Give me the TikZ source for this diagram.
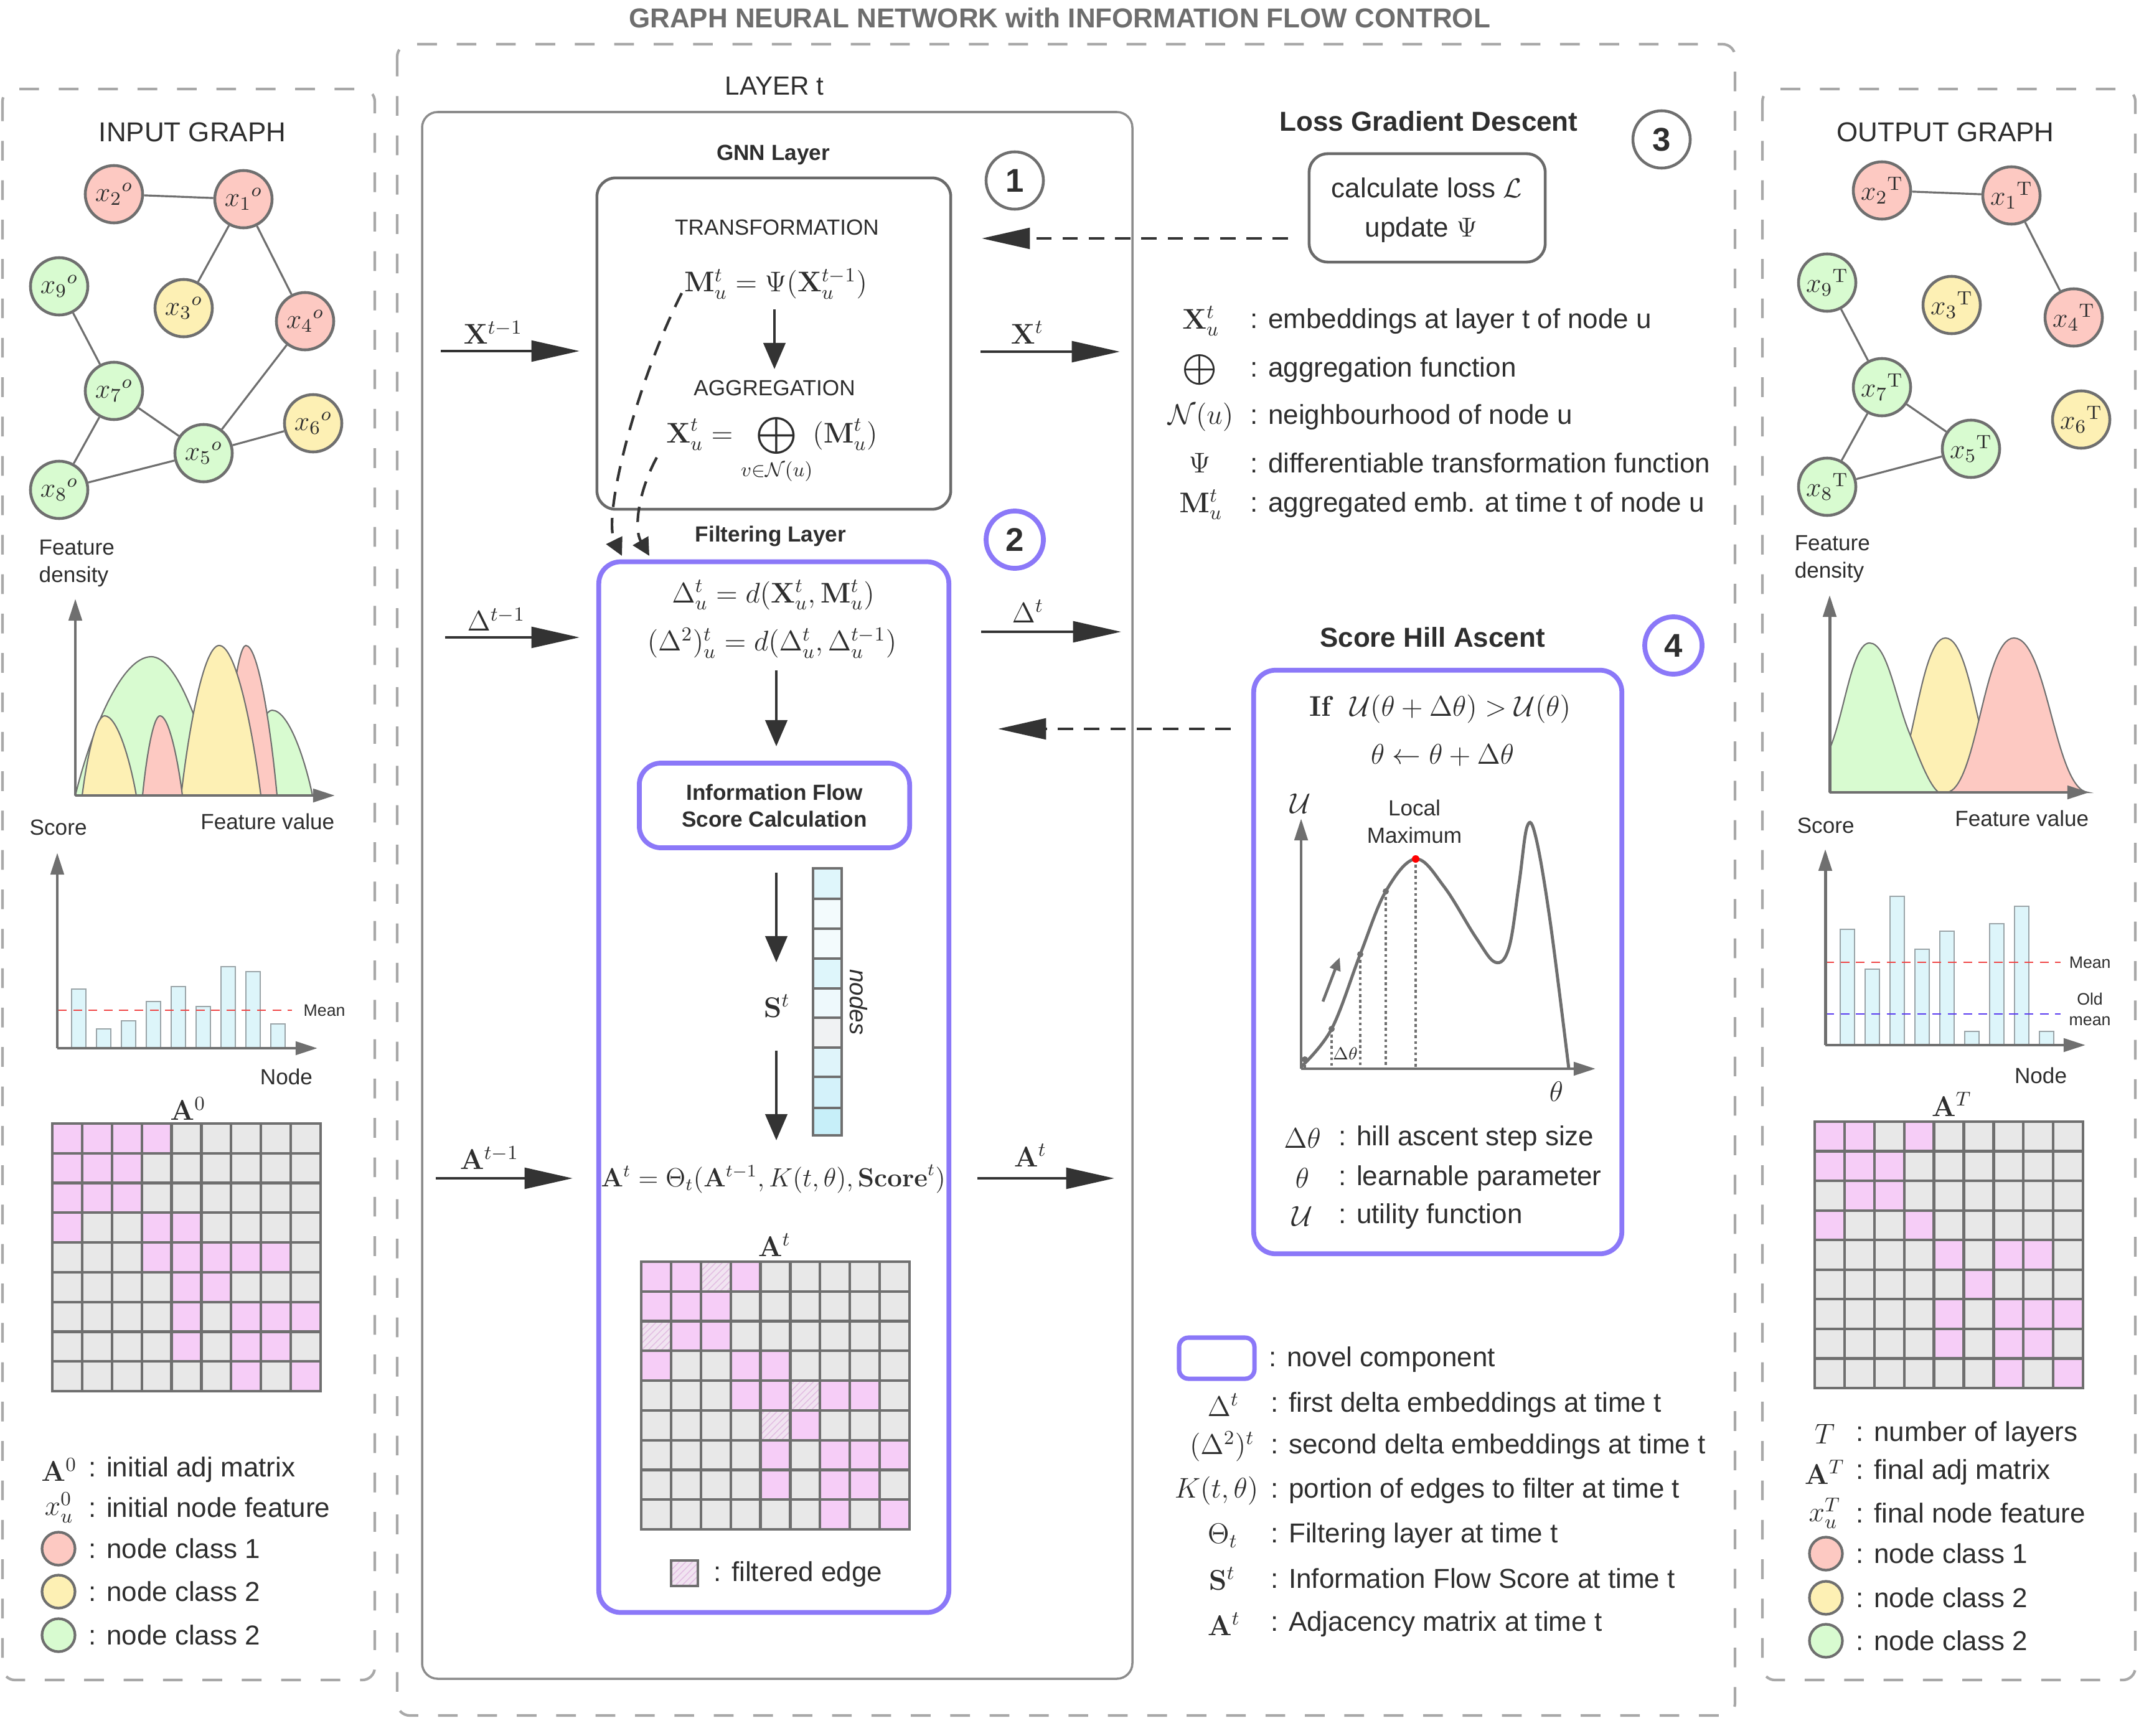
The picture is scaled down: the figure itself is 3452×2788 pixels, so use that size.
\RequirePackage{fix-cm}
\documentclass[tikz,border=0pt]{standalone}
\usepackage{amsmath}
\usepackage[no-math]{fontspec}
\setmainfont{Liberation Sans}
\usetikzlibrary{arrows.meta,patterns}
\newcommand\setfs[2]{\fontsize{#1}{#2}\selectfont}
\definecolor{txt}{HTML}{2E2E2E}
\definecolor{lgray}{HTML}{6F6F6F}
\definecolor{pgray}{HTML}{A8A8A8}
\definecolor{boxgray}{HTML}{6A6A6A}
\definecolor{laygray}{HTML}{8C8C8C}
\definecolor{purp}{HTML}{8B78F8}
\definecolor{npink}{HTML}{FDC9C2}
\definecolor{nyel}{HTML}{FDF0B4}
\definecolor{ngreen}{HTML}{D8FBD0}
\definecolor{mpink}{HTML}{F6CDF7}
\definecolor{mgray}{HTML}{E8E8E8}
\definecolor{fpink}{HTML}{F1E4F1}
\definecolor{hatchc}{HTML}{E2BDE2}
\definecolor{cyanbar}{HTML}{DDF5FA}
\definecolor{barline}{HTML}{9AA4A8}
\definecolor{arr}{HTML}{333333}
\definecolor{titlegray}{HTML}{6E6E6E}
\definecolor{meanred}{HTML}{F04545}
\definecolor{meanblue}{HTML}{5A3CF0}
\definecolor{svA}{HTML}{DFF6FB}
\definecolor{svB}{HTML}{F3FBFD}
\definecolor{svC}{HTML}{DEF6FB}
\definecolor{svD}{HTML}{EEF9FC}
\definecolor{svE}{HTML}{F0F2F3}
\definecolor{svF}{HTML}{DFF4FA}
\definecolor{svG}{HTML}{D4F2FA}
\definecolor{svH}{HTML}{C7EFF9}
\tikzset{
 panel/.style={draw=pgray,line width=1.2pt,dash pattern=on 9pt off 9pt,rounded corners=0.2cm},
 gnode/.style={circle,draw=lgray,line width=1.3pt,minimum size=0.92cm,font=\setfs{12.5}{14}},
 lnode/.style={circle,draw=lgray,line width=1.2pt,minimum size=0.53cm},
 gedge/.style={draw=lgray,line width=0.9pt},
 axisarr/.style={draw=lgray,line width=1.4pt,-{Triangle[length=10pt,width=6pt]}},
 bar/.style={fill=cyanbar,draw=barline,line width=0.5pt},
 harrow/.style={draw=arr,line width=1.3pt,-{Triangle[length=22pt,width=9.5pt]}},
 varrow/.style={draw=arr,line width=1.3pt,-{Triangle[length=12pt,width=10pt]}},
 dharrow/.style={harrow,dash pattern=on 7pt off 5pt},
 dcurve/.style={draw=arr,line width=1.2pt,dash pattern=on 7pt off 5pt,-{Triangle[length=8pt,width=8pt]}},
 graybox/.style={draw=boxgray,line width=1.3pt,rounded corners=0.3cm},
 purpbox/.style={draw=purp,line width=2.2pt,rounded corners=0.35cm},
 numc/.style={circle,draw=lgray,line width=1.3pt,minimum size=0.92cm,font=\bfseries\setfs{15}{18}},
 pnumc/.style={numc,draw=purp,line width=2.2pt},
 lg/.style={anchor=west,font=\setfs{12.5}{15}},
 mth/.style={font=\setfs{13}{15}},
 small/.style={font=\setfs{10}{12.4}},
 mline/.style={draw=lgray,line width=1.2pt},
 curveline/.style={draw=lgray,line width=0.6pt},
 dotline/.style={draw=lgray,line width=1.3pt,dash pattern=on 1.3pt off 1.3pt},
}
\newcommand\adjmat[4]{%
  \fill[mgray] (#1,#2) rectangle ({#1+431},{#2+#3});
  \foreach \r/\c in {#4} {\fill[mpink] ({#1+(\c-1)*47.89},{#2+(\r-1)*#3/9}) rectangle ({#1+\c*47.89},{#2+\r*#3/9});}
  \foreach \i in {0,...,9} {\draw[mline] ({#1+\i*47.89},#2) -- ({#1+\i*47.89},{#2+#3});
    \draw[mline] (#1,{#2+\i*#3/9}) -- ({#1+431},{#2+\i*#3/9});}
  \draw[mline] (#1,#2) rectangle ({#1+431},{#2+#3});
}
\newcommand\filtcells[4]{%
  \foreach \r/\c in {#4} {\fill[fpink] ({#1+(\c-1)*47.89},{#2+(\r-1)*#3/9}) rectangle ({#1+\c*47.89},{#2+\r*#3/9});
   \fill[pattern=north east lines,pattern color=hatchc] ({#1+(\c-1)*47.89},{#2+(\r-1)*#3/9}) rectangle ({#1+\c*47.89},{#2+\r*#3/9});}
}
% color, a, m, b, peak, base
\newcommand\bellsteep[6]{%
  \filldraw[fill=#1,curveline] (#2,#6) .. controls ({#2+0.2*(#3-#2)},{#6-0.45*(#6-#5)}) and ({#3-0.4*(#3-#2)},#5) .. (#3,#5)
    .. controls ({#3+0.4*(#4-#3)},#5) and ({#4-0.2*(#4-#3)},{#6-0.45*(#6-#5)}) .. (#4,#6) -- cycle;}
\newcommand\bellsoft[6]{%
  \filldraw[fill=#1,curveline] (#2,#6) .. controls ({#2+0.45*(#3-#2)},{#6-0.02*(#6-#5)}) and ({#3-0.45*(#3-#2)},#5) .. (#3,#5)
    .. controls ({#3+0.45*(#4-#3)},#5) and ({#4-0.45*(#4-#3)},{#6-0.02*(#6-#5)}) .. (#4,#6) -- cycle;}
\begin{document}
\begin{tikzpicture}[x=0.01cm,y=-0.01cm,every node/.style={text=txt,inner sep=0pt}]
\useasboundingbox (0,0) rectangle (3452,2788);
\fill[white] (0,0) rectangle (3452,2788);

% ---------- title and panels ----------
\node[font=\bfseries\setfs{12.5}{15},text=titlegray] (title) at (1702,29) {GRAPH NEURAL NETWORK with INFORMATION FLOW CONTROL};
\draw[panel] (4,143) rectangle (602,2699);
\draw[panel] (638,71) rectangle (2787,2756);
\draw[panel] (2831,143) rectangle (3430,2699);
\draw[draw=laygray,line width=1pt,rounded corners=0.25cm] (678,180) rectangle (1819,2697);
\node[font=\setfs{12}{14}] (layert) at (1244,138) {LAYER t};

% ---------- INPUT GRAPH ----------
\node[font=\setfs{12.5}{15}] (intitle) at (309,212) {INPUT GRAPH};
\node[gnode,fill=npink] (i1) at (391,320) {$x_{1}{}^{o}$};
\node[gnode,fill=npink] (i2) at (183,312) {$x_{2}{}^{o}$};
\node[gnode,fill=nyel] (i3) at (295,495) {$x_{3}{}^{o}$};
\node[gnode,fill=npink] (i4) at (490,516) {$x_{4}{}^{o}$};
\node[gnode,fill=ngreen] (i5) at (327,728) {$x_{5}{}^{o}$};
\node[gnode,fill=nyel] (i6) at (503,680) {$x_{6}{}^{o}$};
\node[gnode,fill=ngreen] (i7) at (183,628) {$x_{7}{}^{o}$};
\node[gnode,fill=ngreen] (i8) at (95,787) {$x_{8}{}^{o}$};
\node[gnode,fill=ngreen] (i9) at (95,460) {$x_{9}{}^{o}$};
\draw[gedge] (i2) -- (i1);
\draw[gedge] (i1) -- (i3);
\draw[gedge] (i1) -- (i4);
\draw[gedge] (i9) -- (i7);
\draw[gedge] (i4) -- (i5);
\draw[gedge] (i7) -- (i5);
\draw[gedge] (i7) -- (i8);
\draw[gedge] (i8) -- (i5);
\draw[gedge] (i5) -- (i6);

% density chart (input)
\node[small,anchor=west,align=left] (infd) at (62,905) {Feature\\density};
\bellsteep{ngreen}{121}{243}{348}{1055}{1278}
\bellsteep{ngreen}{395}{437}{502}{1141}{1278}
\bellsteep{npink}{360}{395}{445}{1037}{1278}
\bellsteep{nyel}{291}{352}{419}{1037}{1278}
\bellsteep{nyel}{132}{168}{219}{1150}{1278}
\bellsteep{npink}{229}{257}{293}{1150}{1278}
\coordinate (indo) at (121,1278);
\coordinate (indy) at (121,962);
\coordinate (indx) at (538,1278);
\draw[axisarr] (indo) -- (indy);
\draw[axisarr] (indo) -- (indx);
\node[small,anchor=east] (infv) at (538,1320) {Feature value};
\node[small,anchor=west] (insc) at (47,1329) {Score};
% bar chart (input)
\foreach \x/\t in {115/1589,155/1653,195/1640,235/1609,275/1585,315/1617,355/1553,395/1561,435/1645}
  {\draw[bar] (\x,1684) rectangle ({\x+23},\t);}
\draw[meanred,line width=0.6pt,dash pattern=on 4pt off 3pt] (93,1623) -- (469,1623);
\coordinate (inbo) at (92,1684);
\coordinate (inby) at (92,1370);
\coordinate (inbx) at (510,1684);
\draw[axisarr] (inbo) -- (inby);
\draw[axisarr] (inbo) -- (inbx);
\node[font=\setfs{7.6}{9},anchor=west] (inmean) at (487,1623) {Mean};
\node[small] (innode) at (460,1730) {Node};
% matrix A0
\node[mth] (a0lab) at (302,1781) {$\mathbf{A}^{0}$};
\adjmat{84}{1805}{430}{1/1,1/2,1/3,1/4,2/1,2/2,2/3,3/1,3/2,3/3,4/1,4/4,4/5,5/4,5/5,5/6,5/7,5/8,6/5,6/6,7/5,7/7,7/8,7/9,8/5,8/7,8/8,9/7,9/9}
% legend (input)
\node[mth] (lg1s) at (95,2361) {$\mathbf{A}^{0}$};
\node[lg] (lg1t) at (142,2361) {: initial adj matrix};
\node[mth] (lg2s) at (95,2422) {$x_u^0$};
\node[lg] (lg2t) at (142,2422) {: initial node feature};
\node[lnode,fill=npink] (lg3s) at (94,2488) {};
\node[lg] (lg3t) at (142,2488) {: node class 1};
\node[lnode,fill=nyel] (lg4s) at (94,2557) {};
\node[lg] (lg4t) at (142,2557) {: node class 2};
\node[lnode,fill=ngreen] (lg5s) at (94,2627) {};
\node[lg] (lg5t) at (142,2627) {: node class 2};

% ---------- GNN layer ----------
\node[font=\bfseries\setfs{10}{12}] (gnnt) at (1242,249) {GNN Layer};
\node[graybox,minimum width=5.68cm,minimum height=5.32cm] (gnn) at (1243,552) {};
\node[numc] (n1) at (1630,290) {1};
\node[small] (transf) at (1248,365) {TRANSFORMATION};
\node[mth] (mform) at (1246,456) {$\mathbf{M}_u^t = \Psi(\mathbf{X}_u^{t-1})$};
\node[small] (aggr) at (1244,623) {AGGREGATION};
\node[mth] (xform) at (1240,722) {$\displaystyle \mathbf{X}_u^t = \bigoplus_{v\in\mathcal{N}(u)} (\mathbf{M}_u^t)$};
\coordinate (mx1) at (1244,497);
\coordinate (mx2) at (1244,593);
\draw[varrow] (mx1) -- (mx2);
\coordinate (dc1s) at (1095,471);
\coordinate (dc1e) at (999,893);
\coordinate (dc2s) at (1055,735);
\coordinate (dc2e) at (1043,893);
\draw[dcurve] (dc1s) .. controls (1020,620) and (968,830) .. (dc1e);
\draw[dcurve] (dc2s) .. controls (1025,790) and (1018,850) .. (dc2e);

% horizontal arrows
\coordinate (xin1) at (708,564); \coordinate (xin2) at (931,564);
\coordinate (xout1) at (1575,565); \coordinate (xout2) at (1799,565);
\coordinate (din1) at (715,1024); \coordinate (din2) at (931,1024);
\coordinate (dout1) at (1576,1015); \coordinate (dout2) at (1801,1015);
\coordinate (ain1) at (700,1893); \coordinate (ain2) at (920,1893);
\coordinate (aout1) at (1570,1893); \coordinate (aout2) at (1790,1893);
\draw[harrow] (xin1) -- (xin2);
\draw[harrow] (xout1) -- (xout2);
\draw[harrow] (din1) -- (din2);
\draw[harrow] (dout1) -- (dout2);
\draw[harrow] (ain1) -- (ain2);
\draw[harrow] (aout1) -- (aout2);
\node[mth] (lxin) at (792,534) {$\mathbf{X}^{t-1}$};
\node[mth] (lxout) at (1650,534) {$\mathbf{X}^{t}$};
\node[mth] (ldin) at (797,995) {$\Delta^{t-1}$};
\node[mth] (ldout) at (1651,982) {$\Delta^{t}$};
\node[mth] (lain) at (786,1860) {$\mathbf{A}^{t-1}$};
\node[mth] (laout) at (1655,1856) {$\mathbf{A}^{t}$};

% ---------- Filtering layer ----------
\node[font=\bfseries\setfs{10}{12}] (filtt) at (1238,861) {Filtering Layer};
\node[pnumc] (n2) at (1630,867) {2};
\node[purpbox,minimum width=5.62cm,minimum height=16.87cm] (filt) at (1243,1746.5) {};
\node[mth] (f1) at (1242,956) {$\Delta_u^t = d(\mathbf{X}_u^t, \mathbf{M}_u^t)$};
\node[mth] (f2) at (1240,1033) {$(\Delta^2)_u^t = d(\Delta_u^t, \Delta_u^{t-1})$};
\coordinate (fa1) at (1247,1077); \coordinate (fa2) at (1247,1199);
\draw[varrow] (fa1) -- (fa2);
\node[purpbox,minimum width=4.34cm,minimum height=1.36cm,font=\bfseries\setfs{10}{12.2},align=center] (ifsc) at (1244,1294) {Information Flow\\Score Calculation};
\coordinate (fb1) at (1247,1402); \coordinate (fb2) at (1247,1546);
\draw[varrow] (fb1) -- (fb2);
\node[mth] (slab) at (1248,1616) {$\mathbf{S}^{t}$};
\coordinate (fc1) at (1247,1688); \coordinate (fc2) at (1247,1832);
\draw[varrow] (fc1) -- (fc2);
% score vector
\foreach \ya/\yb/\cc in {1395/1444/svA,1444/1492/svB,1492/1540/svB,1540/1588/svC,1588/1635/svD,1635/1683/svE,1683/1730/svF,1730/1780/svG,1780/1824/svH}
  {\filldraw[fill=\cc,draw=lgray,line width=1.2pt] (1306,\ya) rectangle (1352,\yb);}
\node[font=\itshape\setfs{11}{13},rotate=-90] (nodeslab) at (1379,1610) {nodes};
\node[font=\setfs{12}{14}] (aform) at (1242,1894) {$\mathbf{A}^t = \Theta_t(\mathbf{A}^{t-1}, K(t,\theta), \mathbf{Score}^t)$};
\node[mth] (atlab) at (1244,2000) {$\mathbf{A}^{t}$};
\adjmat{1030}{2027}{430}{1/1,1/2,1/4,2/1,2/2,2/3,3/2,3/3,4/1,4/4,4/5,5/4,5/5,5/7,5/8,6/6,7/5,7/7,7/8,7/9,8/5,8/7,8/8,9/7,9/9}
\filtcells{1030}{2027}{430}{1/3,3/1,5/6,6/5}
\foreach \i in {0,...,9} {\draw[mline] ({1030+\i*47.89},2027) -- ({1030+\i*47.89},2457);
    \draw[mline] (1030,{2027+\i*430/9}) -- (1461,{2027+\i*430/9});}
\fill[fpink] (1078,2507) rectangle (1121,2548);
\fill[pattern=north east lines,pattern color=hatchc] (1078,2507) rectangle (1121,2548);
\draw[lgray,line width=1.2pt] (1078,2507) rectangle (1121,2548);
\node[lg] (filtlg) at (1146,2529) {: filtered edge};

% ---------- Loss gradient descent ----------
\node[font=\bfseries\setfs{12.5}{15}] (losst) at (2295,195) {Loss Gradient Descent};
\node[numc] (n3) at (2669,224) {3};
\node[graybox,minimum width=3.79cm,minimum height=1.74cm] (lossbox) at (2292.5,334) {};
\node[font=\setfs{12.5}{15}] (loss1) at (2292,302) {calculate loss $\mathcal{L}$};
\node[font=\setfs{12.5}{15}] (loss2) at (2283,369) {update $\Psi$};
\coordinate (ld1) at (2069,383); \coordinate (ld2) at (1577,383);
\draw[dharrow] (ld1) -- (ld2);
% legend top right
\node[mth] (r1s) at (1929,516) {$\mathbf{X}_u^t$};
\node[lg] (r1t) at (2008,516) {: embeddings at layer t of node u};
\node[font=\setfs{10}{12}] (r2s) at (1927,594) {$\displaystyle\bigoplus$};
\node[lg] (r2t) at (2008,594) {: aggregation function};
\node[mth] (r3s) at (1929,670) {$\mathcal{N}(u)$};
\node[lg] (r3t) at (2008,670) {: neighbourhood of node u};
\node[mth] (r4s) at (1927,744) {$\Psi$};
\node[lg] (r4t) at (2008,744) {: differentiable transformation function};
\node[mth] (r5s) at (1929,811) {$\mathbf{M}_u^t$};
\node[lg] (r5t) at (2008,811) {: aggregated emb. at time t of node u};

% ---------- Score hill ascent ----------
\node[font=\bfseries\setfs{12.5}{15}] (hillt) at (2301,1024) {Score Hill Ascent};
\node[pnumc] (n4) at (2688,1037) {4};
\node[purpbox,minimum width=5.91cm,minimum height=9.37cm] (hillbox) at (2309.5,1545.5) {};
\coordinate (hd1) at (1977,1171); \coordinate (hd2) at (1603,1171);
\draw[dharrow] (hd1) -- (hd2);
\node[mth] (h1) at (2313,1139) {$\mathbf{If}\;\;\mathcal{U}(\theta+\Delta\theta) > \mathcal{U}(\theta)$};
\node[mth] (h2) at (2317,1213) {$\theta \leftarrow \theta + \Delta\theta$};
\coordinate (ho) at (2090,1717);
\coordinate (hy) at (2090,1315);
\coordinate (hx) at (2563,1717);
\draw[dotline] (2096,1702) -- (2096,1717);
\draw[dotline] (2139,1653) -- (2139,1717);
\draw[dotline] (2185,1533) -- (2185,1717);
\draw[dotline] (2226,1432) -- (2226,1717);
\draw[dotline] (2274,1380) -- (2274,1717);
\draw[lgray,line width=1.4pt] plot[smooth,tension=0.6] coordinates {(2090,1714) (2139,1653) (2185,1533) (2226,1432) (2274,1380) (2320,1425) (2370,1505) (2402,1546) (2424,1522) (2440,1420) (2453,1328) (2467,1345) (2490,1480) (2520,1717)};
\draw[axisarr] (ho) -- (hy);
\draw[axisarr] (ho) -- (hx);
\fill[lgray] (2096,1702) circle (0.05cm);
\fill[lgray] (2139,1653) circle (0.05cm);
\fill[lgray] (2185,1533) circle (0.05cm);
\fill[lgray] (2226,1432) circle (0.05cm);
\fill[red] (2274,1380) circle (0.06cm);
\coordinate (ha1) at (2125,1609); \coordinate (ha2) at (2152,1538);
\draw[lgray,line width=1.3pt,-{Triangle[length=6pt,width=5pt]}] (ha1) -- (ha2);
\node[font=\setfs{8}{9}] (dthl) at (2161,1693) {$\Delta\theta$};
\node[mth] (ulab) at (2089,1291) {$\mathcal{U}$};
\node[mth] (thlab) at (2500,1754) {$\theta$};
\node[small,align=center] (locmax) at (2272,1320) {Local\\Maximum};
\node[mth] (hl1s) at (2092,1829) {$\Delta\theta$};
\node[lg] (hl1t) at (2150,1829) {: hill ascent step size};
\node[mth] (hl2s) at (2092,1893) {$\theta$};
\node[lg] (hl2t) at (2150,1893) {: learnable parameter};
\node[mth] (hl3s) at (2092,1954) {$\mathcal{U}$};
\node[lg] (hl3t) at (2150,1954) {: utility function};

% ---------- bottom middle legend ----------
\node[purpbox,rounded corners=0.15cm,line width=2pt,minimum width=1.21cm,minimum height=0.66cm] (novel) at (1954.5,2182) {};
\node[lg] (b0t) at (2038,2184) {: novel component};
\node[mth] (b1s) at (1965,2257) {$\Delta^t$};
\node[lg] (b1t) at (2041,2257) {: first delta embeddings at time t};
\node[mth] (b2s) at (1963,2324) {$(\Delta^2)^t$};
\node[lg] (b2t) at (2041,2324) {: second delta embeddings at time t};
\node[mth] (b3s) at (1954,2395) {$K(t,\theta)$};
\node[lg] (b3t) at (2041,2395) {: portion of edges to filter at time t};
\node[mth] (b4s) at (1964,2467) {$\Theta_t$};
\node[lg] (b4t) at (2041,2467) {: Filtering layer at time t};
\node[mth] (b5s) at (1963,2536) {$\mathbf{S}^t$};
\node[lg] (b5t) at (2041,2536) {: Information Flow Score at time t};
\node[mth] (b6s) at (1966,2609) {$\mathbf{A}^t$};
\node[lg] (b6t) at (2041,2609) {: Adjacency matrix at time t};

% ---------- OUTPUT GRAPH ----------
\node[font=\setfs{12.5}{15}] (outtitle) at (3125,212) {OUTPUT GRAPH};
\node[gnode,fill=npink] (o1) at (3231,314) {$x_{1}{}^{\mathrm{T}}$};
\node[gnode,fill=npink] (o2) at (3023,306) {$x_{2}{}^{\mathrm{T}}$};
\node[gnode,fill=nyel] (o3) at (3135,490) {$x_{3}{}^{\mathrm{T}}$};
\node[gnode,fill=npink] (o4) at (3331,510) {$x_{4}{}^{\mathrm{T}}$};
\node[gnode,fill=ngreen] (o5) at (3166,721) {$x_{5}{}^{\mathrm{T}}$};
\node[gnode,fill=nyel] (o6) at (3343,674) {$x_{6}{}^{\mathrm{T}}$};
\node[gnode,fill=ngreen] (o7) at (3023,622) {$x_{7}{}^{\mathrm{T}}$};
\node[gnode,fill=ngreen] (o8) at (2935,782) {$x_{8}{}^{\mathrm{T}}$};
\node[gnode,fill=ngreen] (o9) at (2935,454) {$x_{9}{}^{\mathrm{T}}$};
\draw[gedge] (o2) -- (o1);
\draw[gedge] (o1) -- (o4);
\draw[gedge] (o9) -- (o7);
\draw[gedge] (o7) -- (o5);
\draw[gedge] (o7) -- (o8);
\draw[gedge] (o8) -- (o5);
% density chart (output)
\node[small,anchor=west,align=left] (outfd) at (2882,898) {Feature\\density};
\bellsoft{nyel}{3028}{3125}{3227}{1025}{1273}
\filldraw[fill=ngreen,curveline] (2939,1273) -- (2939,1203) .. controls (2962,1150) and (2975,1033) .. (3003,1033)
   .. controls (3032,1033) and (3045,1125) .. (3068,1180) .. controls (3085,1225) and (3100,1262) .. (3114,1273) -- cycle;
\bellsoft{npink}{3127}{3235}{3354}{1025}{1273}
\coordinate (outdo) at (2939,1273);
\coordinate (outdy) at (2939,956);
\coordinate (outdx) at (3356,1273);
\draw[axisarr] (outdo) -- (outdy);
\draw[axisarr] (outdo) -- (outdx);
\node[small,anchor=east] (outfv) at (3356,1315) {Feature value};
\node[small,anchor=west] (outsc) at (2886,1326) {Score};
% bar chart (output)
\foreach \x/\t in {2956/1493,2996/1557,3036/1440,3076/1525,3116/1496,3156/1657,3196/1484,3236/1456,3276/1657}
  {\draw[bar] (\x,1679) rectangle ({\x+23},\t);}
\draw[meanred,line width=0.6pt,dash pattern=on 4pt off 3pt] (2932,1546) -- (3310,1546);
\draw[meanblue,line width=0.6pt,dash pattern=on 4pt off 3pt] (2932,1629) -- (3310,1629);
\coordinate (outbo) at (2932,1679);
\coordinate (outby) at (2932,1364);
\coordinate (outbx) at (3350,1679);
\draw[axisarr] (outbo) -- (outby);
\draw[axisarr] (outbo) -- (outbx);
\node[font=\setfs{7.6}{9},anchor=west] (outmean) at (3323,1546) {Mean};
\node[font=\setfs{7.6}{9.4},align=center] (oldmean) at (3357,1621) {Old\\mean};
\node[small] (outnode) at (3278,1728) {Node};
% matrix AT
\node[mth] (aTlab) at (3135,1774) {$\mathbf{A}^{T}$};
\adjmat{2915}{1802}{428}{1/1,1/2,1/4,2/1,2/2,2/3,3/2,3/3,4/1,4/4,5/5,5/7,5/8,6/6,7/5,7/7,7/8,7/9,8/5,8/7,8/8,9/7,9/9}
% legend (output)
\node[mth] (rl1s) at (2931,2304) {$T$};
\node[lg] (rl1t) at (2981,2304) {: number of layers};
\node[mth] (rl2s) at (2931,2365) {$\mathbf{A}^{T}$};
\node[lg] (rl2t) at (2981,2365) {: final adj matrix};
\node[mth] (rl3s) at (2931,2431) {$x_u^T$};
\node[lg] (rl3t) at (2981,2431) {: final node feature};
\node[lnode,fill=npink] (rl4s) at (2933,2496) {};
\node[lg] (rl4t) at (2981,2496) {: node class 1};
\node[lnode,fill=nyel] (rl5s) at (2933,2567) {};
\node[lg] (rl5t) at (2981,2567) {: node class 2};
\node[lnode,fill=ngreen] (rl6s) at (2933,2636) {};
\node[lg] (rl6t) at (2981,2636) {: node class 2};
\end{tikzpicture}
\end{document}
